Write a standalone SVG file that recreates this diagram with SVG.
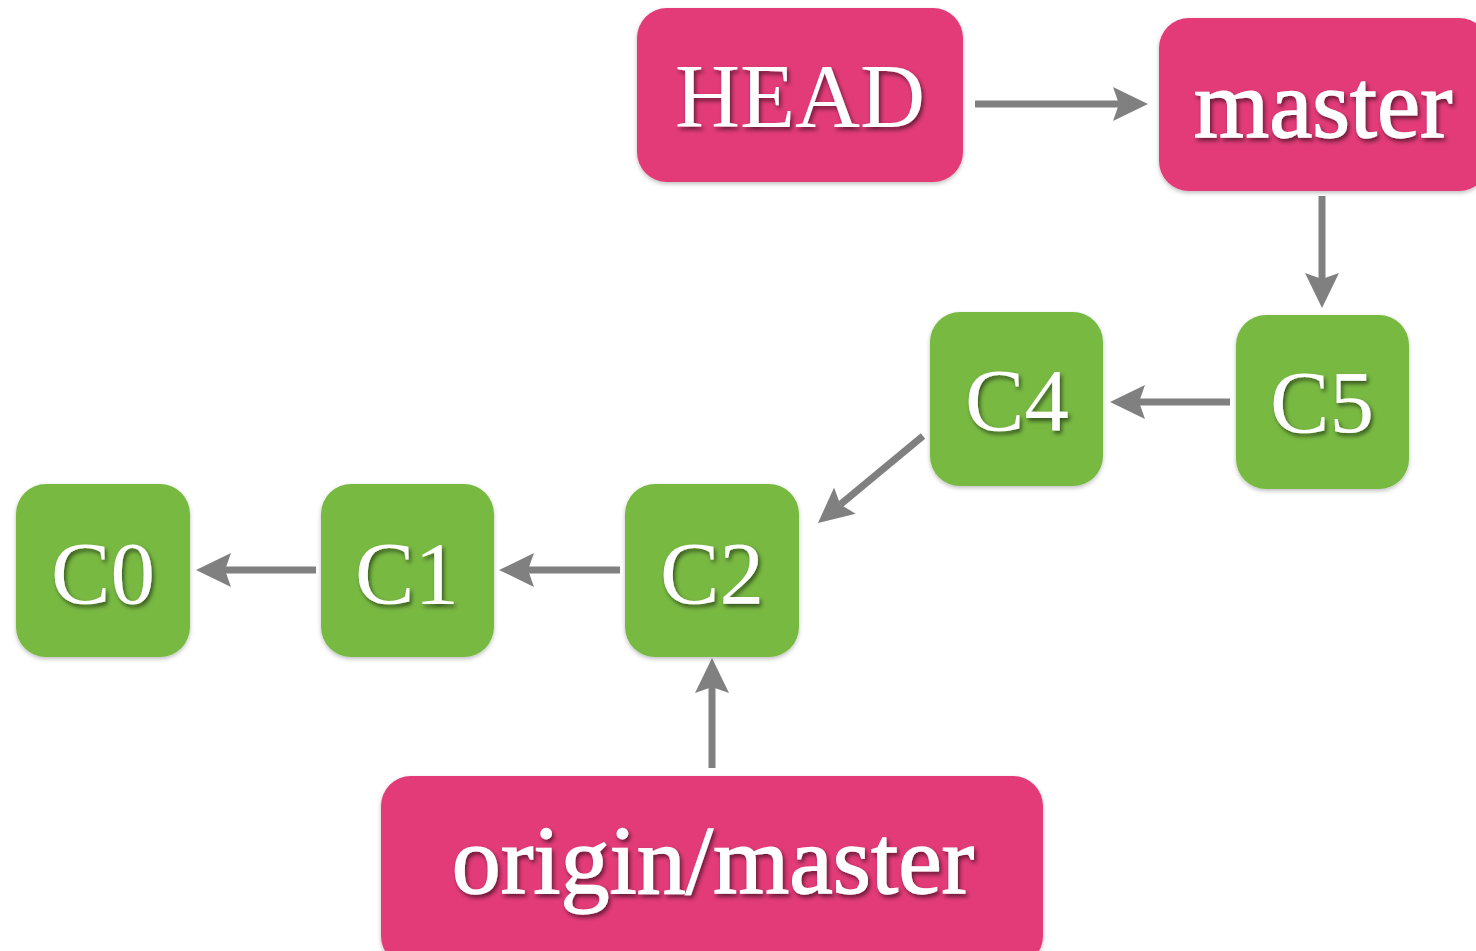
<svg xmlns="http://www.w3.org/2000/svg" width="1476" height="951" viewBox="0 0 1476 951">
<style>
.ref{fill:#E23A78}
.cm{fill:#78B943}
.box{filter:url(#bs)}
.t{font-family:"Liberation Serif","DejaVu Serif",serif;fill:#fff;text-anchor:middle;filter:url(#ts)}
.b{stroke:#fff;stroke-width:1.4}
.ln{stroke:#808080;stroke-width:7;fill:none;marker-end:url(#ah)}
</style>
<defs>
<filter id="ts" x="-20%" y="-20%" width="140%" height="150%">
<feDropShadow dx="2" dy="3" stdDeviation="2" flood-color="#000" flood-opacity="0.55"/>
</filter>
<filter id="bs" x="-10%" y="-10%" width="120%" height="125%">
<feDropShadow dx="0" dy="2" stdDeviation="2" flood-color="#000" flood-opacity="0.25"/>
</filter>
<marker id="ah" markerUnits="userSpaceOnUse" markerWidth="40" markerHeight="40" viewBox="0 0 40 40" refX="6" refY="20" orient="auto">
<path d="M35,20 L0,3 L6,20 L0,37 Z" fill="#808080"/>
</marker>
</defs>
<g id="connectors">
<line class="ln" x1="975" y1="104" x2="1119" y2="104"/>
<line class="ln" x1="1322" y1="196" x2="1322" y2="279"/>
<line class="ln" x1="1230" y1="402" x2="1139" y2="402"/>
<line class="ln" x1="923" y1="436" x2="840.3" y2="504.5"/>
<line class="ln" x1="620" y1="570" x2="528" y2="570"/>
<line class="ln" x1="316" y1="570" x2="225" y2="570"/>
<line class="ln" x1="712" y1="768" x2="712" y2="687"/>
</g>
<g id="HEAD">
<rect class="ref box" x="637" y="8" width="326" height="174" rx="30"/>
<text class="t" x="800" y="127" font-size="90">HEAD</text>
</g>
<g id="master">
<rect class="ref box" x="1159" y="18" width="330" height="173" rx="30"/>
<text class="t b" x="1323" y="137" font-size="97">master</text>
</g>
<g id="C5">
<rect class="cm box" x="1236" y="315" width="173" height="174" rx="30"/>
<text class="t" x="1322" y="432" font-size="89">C5</text>
</g>
<g id="C4">
<rect class="cm box" x="930" y="312" width="173" height="174" rx="30"/>
<text class="t" x="1017" y="430" font-size="89">C4</text>
</g>
<g id="C2">
<rect class="cm box" x="625" y="484" width="174" height="173" rx="30"/>
<text class="t" x="712" y="603" font-size="89">C2</text>
</g>
<g id="C1">
<rect class="cm box" x="321" y="484" width="173" height="173" rx="30"/>
<text class="t" x="407" y="603" font-size="89">C1</text>
</g>
<g id="C0">
<rect class="cm box" x="16" y="484" width="174" height="173" rx="30"/>
<text class="t" x="103" y="603" font-size="89">C0</text>
</g>
<g id="origin-master">
<rect class="ref box" x="381" y="776" width="662" height="190" rx="30"/>
<text class="t b" x="713" y="893" font-size="98">origin/master</text>
</g>
</svg>
